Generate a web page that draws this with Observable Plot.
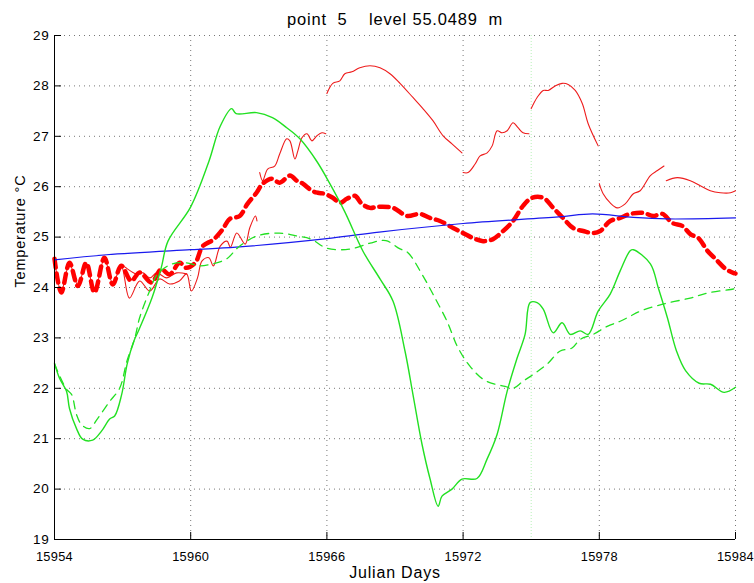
<!DOCTYPE html>
<html>
<head>
<meta charset="utf-8">
<script src="https://cdn.jsdelivr.net/npm/d3@7"></script>
<script src="https://cdn.jsdelivr.net/npm/@observablehq/plot@0.6"></script>
<style>
  html, body { margin: 0; padding: 0; background: #fff; }
  svg text { white-space: pre; }
</style>
</head>
<body>
<div id="chart"></div>
<script>
const titleText = "point  5    level 55.0489  m";
const xLabel = "Julian Days";
const yLabel = "Temperature \u00B0C";
const xTicks = [15954, 15960, 15966, 15972, 15978, 15984];
const yTicks = [19, 20, 21, 22, 23, 24, 25, 26, 27, 28, 29];
const markerDay = [15975];

// blue solid
const blueLine = [[15954,24.55],[15956.3,24.65],[15960,24.75],[15962,24.8],[15966.2,24.98],[15968.3,25.1],
  [15972,25.27],[15976.2,25.4],[15977.7,25.46],[15979.5,25.39],[15981,25.36],[15984,25.38]];

// green solid
const greenSolid = [[15954,22.5],[15954.22,22.2],[15954.53,21.94],[15954.66,21.6],[15954.97,21.2],[15955.24,20.99],
  [15955.68,20.97],[15956.07,21.15],[15956.43,21.39],[15956.65,21.45],[15956.96,21.88],[15957.2,22.48],[15957.5,22.94],
  [15957.7,23.14],[15958.3,23.8],[15958.7,24.39],[15959.0,24.92],[15960.0,25.6],[15960.8,26.5],[15961.3,27.2],
  [15961.8,27.55],[15962.0,27.45],[15962.9,27.47],[15963.6,27.37],[15964.23,27.17],[15964.81,26.95],[15965.56,26.5],
  [15966.13,26.06],[15966.79,25.5],[15967.59,24.72],[15968.34,24.17],[15968.91,23.73],[15969.44,22.74],[15969.79,21.88],
  [15970.19,20.89],[15970.54,20.21],[15970.9,19.66],[15971.07,19.86],[15971.51,20.0],[15971.95,20.2],[15972.61,20.21],
  [15973.06,20.6],[15973.5,21.09],[15973.94,21.94],[15974.38,22.6],[15974.73,23.07],[15974.95,23.7],[15975.26,23.7],
  [15975.53,23.57],[15975.97,23.1],[15976.36,23.3],[15976.72,23.07],[15977.16,23.14],[15977.51,23.07],[15977.95,23.53],
  [15978.48,23.87],[15978.92,24.33],[15979.36,24.73],[15979.5,24.75],[15980.25,24.47],[15980.6,23.99],[15981.0,23.4],
  [15981.4,22.74],[15981.8,22.35],[15982.4,22.1],[15982.9,22.08],[15983.5,21.92],[15984,22.02]];

// green dashed
const greenDashed = [[15954,22.48],[15954.53,21.98],[15954.75,21.88],[15954.97,21.48],[15955.19,21.28],[15955.54,21.2],
  [15955.9,21.4],[15956.43,21.74],[15956.87,22.0],[15957.19,22.54],[15957.54,23.0],[15957.75,23.4],[15958.19,23.93],
  [15958.54,24.27],[15959.2,24.47],[15959.82,24.49],[15960.4,24.43],[15960.97,24.47],[15961.59,24.57],[15962.1,24.8],
  [15962.9,25.02],[15963.9,25.08],[15964.7,25.02],[15965.3,24.96],[15966.0,24.78],[15967.0,24.76],[15967.9,24.88],
  [15968.6,24.93],[15969.2,24.77],[15969.57,24.69],[15970.23,24.23],[15970.67,23.87],[15971.29,23.33],[15971.78,22.8],
  [15972.3,22.44],[15972.88,22.18],[15973.41,22.08],[15973.85,22.04],[15974.2,22.0],[15974.64,22.14],[15975.17,22.3],
  [15975.7,22.48],[15976.28,22.74],[15976.8,22.8],[15977.16,22.97],[15977.73,23.07],[15978.35,23.23],[15978.92,23.33],
  [15979.36,23.43],[15979.8,23.53],[15980.8,23.67],[15982.0,23.79],[15982.76,23.89],[15983.9,23.97],[15984,23.98]];

// thick red dashed
const redThick = [[15954,24.57],[15954.3,23.9],[15954.66,24.49],[15955.03,24.03],[15955.4,24.49],[15955.76,23.9],
  [15956.2,24.59],[15956.57,24.06],[15956.94,24.43],[15957.38,24.13],[15957.75,24.3],[15958.27,24.1],[15958.7,24.36],
  [15959.07,24.26],[15959.51,24.49],[15959.81,24.39],[15960.2,24.49],[15960.53,24.82],[15961.0,24.95],[15961.4,25.15],
  [15961.72,25.36],[15962.16,25.42],[15962.5,25.66],[15962.9,25.88],[15963.17,26.06],[15963.57,26.16],[15963.92,26.08],
  [15964.37,26.22],[15964.67,26.12],[15964.94,26.06],[15965.34,25.92],[15965.6,25.88],[15965.9,25.86],[15966.26,25.78],
  [15966.57,25.68],[15966.88,25.76],[15967.23,25.82],[15967.54,25.66],[15967.9,25.58],[15968.2,25.6],[15968.91,25.58],
  [15969.53,25.42],[15970.1,25.46],[15970.54,25.38],[15970.98,25.32],[15971.56,25.18],[15972.0,25.08],[15972.44,24.98],
  [15972.88,24.92],[15973.32,24.96],[15973.76,25.12],[15974.2,25.32],[15974.64,25.62],[15975.04,25.78],[15975.53,25.78],
  [15975.97,25.58],[15976.4,25.38],[15976.85,25.18],[15977.29,25.12],[15977.73,25.08],[15978.04,25.12],[15978.48,25.32],
  [15978.92,25.38],[15979.36,25.46],[15979.94,25.48],[15980.38,25.42],[15980.78,25.46],[15981.22,25.28],[15981.66,25.22],
  [15982.01,25.06],[15982.37,24.98],[15982.76,24.73],[15983.2,24.53],[15983.56,24.37],[15983.9,24.29],[15984,24.28]];

// thin red, in segments
const redThin1 = [[15954,24.57],[15954.3,23.92],[15954.66,24.47],[15955.03,24.05],[15955.4,24.47],[15955.76,23.92],
  [15956.2,24.57],[15956.57,24.08],[15956.94,24.43],[15957.3,23.79],[15957.75,24.13],[15958.2,23.93],[15958.63,24.17],
  [15959.07,24.07],[15959.5,24.13],[15959.82,24.27],[15960.03,23.93],[15960.3,24.19],[15960.5,24.53],[15960.8,24.59],
  [15961.0,24.43],[15961.3,24.82],[15961.6,24.92],[15961.75,24.8],[15962.03,25.08],[15962.4,24.86],[15962.6,25.18],
  [15962.85,25.42],[15962.92,25.32]];
const redThin2 = [[15956.94,24.43],[15957.0,24.43],[15957.6,24.27],[15957.9,24.29],[15958.2,24.19],[15958.5,24.29],
  [15958.94,24.19],[15959.38,24.29],[15959.82,24.27]];
const redThin3 = [[15963.04,26.28],[15963.17,26.12],[15963.39,26.35],[15963.7,26.41],[15963.92,26.65],[15964.23,26.95],
  [15964.37,26.91],[15964.59,26.55],[15964.72,26.71],[15964.9,26.97],[15965.12,27.05],[15965.34,26.91],[15965.56,27.01],
  [15965.78,27.07],[15965.95,27.05]];
const redThin4 = [[15966.0,27.85],[15966.26,28.05],[15966.57,28.1],[15966.79,28.24],[15967.1,28.28],[15967.45,28.36],
  [15967.9,28.4],[15968.34,28.36],[15968.78,28.24],[15969.22,28.05],[15969.79,27.77],[15970.23,27.55],[15970.67,27.31],
  [15971.12,27.01],[15971.51,26.85],[15971.95,26.67]];
const redThin5 = [[15972.0,26.28],[15972.22,26.28],[15972.53,26.45],[15972.75,26.61],[15973.06,26.67],[15973.28,26.81],
  [15973.5,27.11],[15973.72,27.07],[15973.94,27.11],[15974.2,27.27],[15974.42,27.17],[15974.64,27.07],[15974.9,27.05]];
const redThin6 = [[15975.0,27.55],[15975.26,27.77],[15975.53,27.91],[15975.75,27.91],[15976.06,28.0],[15976.36,28.05],
  [15976.63,28.03],[15976.94,27.91],[15977.25,27.65],[15977.51,27.25],[15977.95,26.81]];
const redThin7 = [[15978.0,26.06],[15978.17,25.86],[15978.48,25.68],[15978.79,25.58],[15979.14,25.66],[15979.5,25.86],
  [15979.8,25.92],[15980.25,26.22],[15980.56,26.32],[15980.85,26.41]];
const redThin8 = [[15980.95,26.12],[15981.44,26.18],[15982.01,26.12],[15982.45,26.02],[15982.89,25.92],[15983.33,25.88],
  [15983.78,25.88],[15984,25.92]];

const thinSegments = [redThin1, redThin2, redThin3, redThin4, redThin5, redThin6, redThin7, redThin8];
const thinData = thinSegments.flatMap((seg, i) => seg.map(d => ({x: d[0], y: d[1], s: i})));

const W = 754, H = 583, mL = 54, mR = 19, mT = 35, mB = 44;
const plotW = W - mL - mR, plotH = H - mT - mB;
const font = "'Liberation Sans', Arial, Helvetica, sans-serif";
const X = d => d[0], Y = d => d[1];
const curve = "catmull-rom";

const chart = Plot.plot({
  width: W, height: H,
  marginLeft: mL, marginRight: mR, marginTop: mT, marginBottom: mB,
  style: {fontFamily: font, background: "#fff", overflow: "visible"},
  x: {domain: [xTicks[0], xTicks[xTicks.length - 1]], axis: null},
  y: {domain: [yTicks[0], yTicks[yTicks.length - 1]], axis: null},
  marks: [
    Plot.gridX(xTicks, {stroke: "#777", strokeOpacity: 1, strokeWidth: 1, strokeDasharray: "1,4"}),
    Plot.gridY(yTicks, {stroke: "#777", strokeOpacity: 1, strokeWidth: 1, strokeDasharray: "1,4"}),
    Plot.ruleX(markerDay, {stroke: "#b8f0b8", strokeWidth: 1, strokeDasharray: "1,2"}),
    Plot.line(thinData, {x: "x", y: "y", z: "s", stroke: "#ee1c1c", strokeWidth: 1.1, curve}),
    Plot.line(redThick, {x: X, y: Y, stroke: "#ff0000", strokeWidth: 4.5, strokeDasharray: "9,6", curve}),
    Plot.line(blueLine, {x: X, y: Y, stroke: "#1a1aee", strokeWidth: 1.2, curve}),
    Plot.line(greenDashed, {x: X, y: Y, stroke: "#22e022", strokeWidth: 1.3, strokeDasharray: "8,6", curve}),
    Plot.line(greenSolid, {x: X, y: Y, stroke: "#22e022", strokeWidth: 1.4, curve}),
    // axes lines
    Plot.ruleX([xTicks[0]], {stroke: "#000", strokeWidth: 1}),
    Plot.ruleY([yTicks[0]], {stroke: "#000", strokeWidth: 1}),
    // inward ticks
    Plot.tickX(xTicks, {x: d => d, stroke: "#000", insetTop: plotH - 7}),
    Plot.tickY(yTicks, {y: d => d, stroke: "#000", insetRight: plotW - 7}),
    // tick labels
    Plot.axisX(xTicks, {tickSize: 0, tickPadding: 12, fontSize: 12.8, tickFormat: d => String(d), fill: "#000", label: null, className: "xt"}),
    Plot.axisY(yTicks, {tickSize: 0, tickPadding: 5, fontSize: 13.5, tickFormat: d => String(d), fill: "#000", label: null}),
    // labels and title
    Plot.text([xLabel], {frameAnchor: "bottom", lineAnchor: "bottom", dy: 38, fontSize: 16, fill: "#000"}),
    Plot.text([yLabel], {frameAnchor: "left", rotate: -90, dx: -34, fontSize: 14.5, fill: "#000"}),
    Plot.text([titleText], {frameAnchor: "top", lineAnchor: "bottom", dy: -11, fontSize: 16.5, fill: "#000"})
  ]
});
chart.querySelectorAll("text").forEach(t => t.style.letterSpacing = "0.8px");
chart.querySelectorAll(".xt text").forEach(t => t.style.letterSpacing = "0.3px");
document.getElementById("chart").appendChild(chart);
</script>
</body>
</html>
